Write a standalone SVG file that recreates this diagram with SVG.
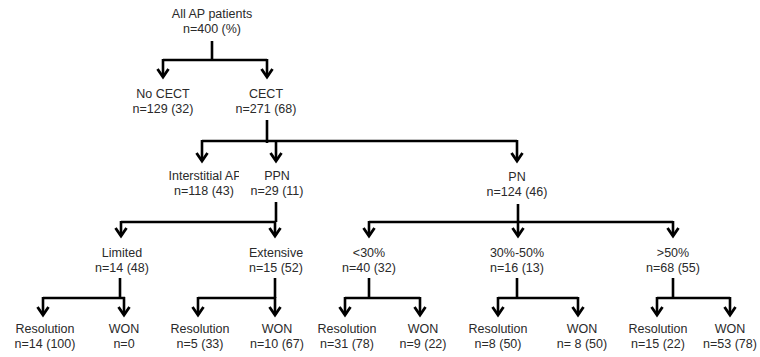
<svg xmlns="http://www.w3.org/2000/svg" width="760" height="357" viewBox="0 0 760 357">
<style>
text{font-family:"Liberation Sans",Arial,sans-serif;font-size:12.5px;fill:#2a2a2a;text-anchor:middle}
.c{fill:none;stroke:#000;stroke-width:2.6;stroke-linecap:butt;stroke-linejoin:miter}
.a{marker-end:url(#arr)}
</style>
<defs>
<marker id="arr" markerUnits="userSpaceOnUse" orient="auto" markerWidth="14" markerHeight="14" refX="0" refY="0" viewBox="-10 -7 12 14" overflow="visible">
<path d="M-8,-5.5 L0,0 L-8,5.5" fill="none" stroke="#000" stroke-width="2.8"/>
</marker>
<clipPath id="clipIAP"><rect x="150" y="165" width="89" height="20"/></clipPath>
</defs>
<rect width="760" height="357" fill="#fff"/>
<g id="connectors">
<path class="c" d="M212,41 V60 M163,60 H267"/>
<path class="c a" d="M163,59 V77"/>
<path class="c a" d="M267,59 V77"/>
<path class="c" d="M267,120 V143 M202,141 H517"/>
<path class="c a" d="M202,140 V161"/>
<path class="c a" d="M276,140 V161"/>
<path class="c a" d="M517,140 V161"/>
<path class="c" d="M276,202 V222 M121,222 H276"/>
<path class="c a" d="M121,221 V236"/>
<path class="c a" d="M275,221 V236"/>
<path class="c" d="M518,204 V222 M369,222 H673"/>
<path class="c a" d="M369,221 V236"/>
<path class="c a" d="M518,221 V236"/>
<path class="c a" d="M673,221 V236"/>
<path class="c" d="M120,278 V299 M43,298 H125"/>
<path class="c a" d="M43,297 V315"/>
<path class="c a" d="M124,297 V315"/>
<path class="c" d="M275,278 V298 M198,298 H276"/>
<path class="c a" d="M198,297 V315"/>
<path class="c a" d="M275,297 V315"/>
<path class="c" d="M369,278 V298 M345,298 H420"/>
<path class="c a" d="M345,297 V315"/>
<path class="c a" d="M420,297 V315"/>
<path class="c" d="M517,278 V298 M498,298 H578"/>
<path class="c a" d="M498,297 V315"/>
<path class="c a" d="M578,297 V315"/>
<path class="c" d="M673,278 V298 M657,298 H730"/>
<path class="c a" d="M657,297 V315"/>
<path class="c a" d="M730,297 V315"/>
</g>
<g id="all"><text x="212" y="18">All AP patients</text><text x="212" y="33">n=400 (%)</text></g>
<g id="nocect"><text x="163" y="98">No CECT</text><text x="163" y="113">n=129 (32)</text></g>
<g id="cect"><text x="266" y="98">CECT</text><text x="266" y="113">n=271 (68)</text></g>
<g id="interstitial"><text x="205" y="180" clip-path="url(#clipIAP)">Interstitial AP</text><text x="204" y="195">n=118 (43)</text></g>
<g id="ppn"><text x="277" y="180">PPN</text><text x="277" y="195">n=29 (11)</text></g>
<g id="pn"><text x="517" y="181">PN</text><text x="517" y="196">n=124 (46)</text></g>
<g id="limited"><text x="122" y="257">Limited</text><text x="122" y="272">n=14 (48)</text></g>
<g id="extensive"><text x="276" y="257">Extensive</text><text x="276" y="272">n=15 (52)</text></g>
<g id="lt30"><text x="369" y="257">&lt;30%</text><text x="369" y="272">n=40 (32)</text></g>
<g id="mid"><text x="517" y="257">30%-50%</text><text x="517" y="272">n=16 (13)</text></g>
<g id="gt50"><text x="673" y="257">&gt;50%</text><text x="673" y="272">n=68 (55)</text></g>
<g id="res1"><text x="45" y="333">Resolution</text><text x="45" y="348">n=14 (100)</text></g>
<g id="won1"><text x="124" y="333">WON</text><text x="124" y="348">n=0</text></g>
<g id="res2"><text x="200" y="333">Resolution</text><text x="200" y="348">n=5 (33)</text></g>
<g id="won2"><text x="277" y="333">WON</text><text x="277" y="348">n=10 (67)</text></g>
<g id="res3"><text x="347" y="333">Resolution</text><text x="347" y="348">n=31 (78)</text></g>
<g id="won3"><text x="423" y="333">WON</text><text x="423" y="348">n=9 (22)</text></g>
<g id="res4"><text x="498" y="333">Resolution</text><text x="498" y="348">n=8 (50)</text></g>
<g id="won4"><text x="582" y="333">WON</text><text x="582" y="348">n= 8 (50)</text></g>
<g id="res5"><text x="658" y="333">Resolution</text><text x="658" y="348">n=15 (22)</text></g>
<g id="won5"><text x="730" y="333">WON</text><text x="730" y="348">n=53 (78)</text></g>
</svg>
